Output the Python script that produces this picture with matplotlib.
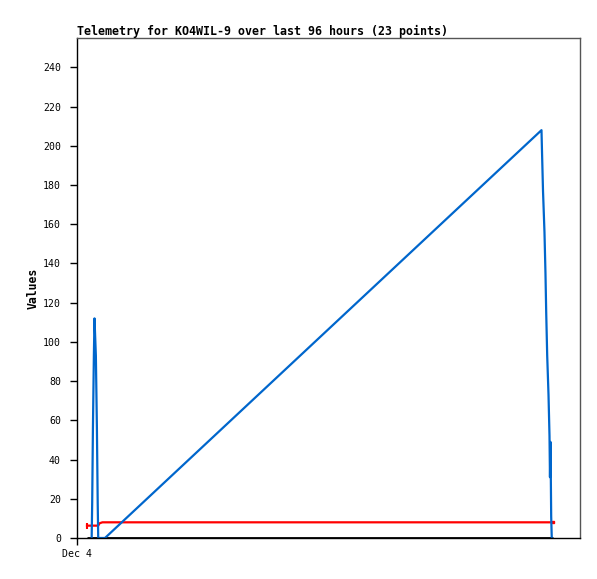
import matplotlib
matplotlib.use("Agg")
import matplotlib.pyplot as plt

# hours since Dec 4 00:00
blue_t = [2.80, 2.90, 3.04, 3.22, 3.34, 3.60, 3.80, 3.95, 4.05, 5.34, 88.65, 88.75,
          88.94, 89.22, 89.41, 89.55, 89.74, 89.99, 90.18, 90.27, 90.37, 90.50, 90.61]
blue_v = [0, 18, 56, 93, 112, 93, 56, 18, 0, 0, 208, 197,
          177, 156, 135, 115, 93, 73, 52, 31, 49, 11, 0]

red_t = [1.91, 4.05, 4.3, 4.85, 90.85]
red_v = [6.3, 6.3, 7.5, 8.0, 8.0]

black_t = [1.91, 90.85]
black_v = [0, 0]

yticks = list(range(0, 241, 20))
xtick_pos = [0]
xtick_lab = ["Dec 4"]

title = "Telemetry for KO4WIL-9 over last 96 hours (23 points)"

mono = "DejaVu Sans Mono"
fig = plt.figure(figsize=(5.97, 5.79), dpi=100)
ax = fig.add_axes([77/597, 1-538/579, 503/597, 500/579])

ax.plot(black_t, black_v, color="black", lw=2.0, solid_capstyle="butt")
ax.plot(red_t, red_v, color="#ff0000", lw=1.6, marker="|", markevery=[0], ms=4, mew=1.5)
ax.plot(red_t[-1:], red_v[-1:], color="#ff0000", marker="s", ms=2)
ax.plot(blue_t, blue_v, color="#0066cc", lw=1.6)

ax.set_xlim(0, 96)
ax.set_ylim(0, 255)
ax.set_yticks(yticks)
ax.set_yticklabels([str(v) for v in yticks], family=mono, fontsize=7.1)
ax.set_xticks(xtick_pos)
ax.set_xticklabels(xtick_lab, family=mono, fontsize=7.1)
ax.tick_params(axis="both", direction="out", length=5, width=1, color="black")
ax.tick_params(axis="y", pad=6.5)
ax.tick_params(axis="x", pad=3)

for s in ["top", "right"]:
    ax.spines[s].set_color("#555555")
    ax.spines[s].set_linewidth(1)
for s in ["left", "bottom"]:
    ax.spines[s].set_color("black")
    ax.spines[s].set_linewidth(1)

ax.set_ylabel("Values", family=mono, fontsize=8.3, fontweight="bold", labelpad=2.5)
fig.text(77/597, 1-31/579, title, family=mono, fontsize=8.35, fontweight="bold",
         ha="left", va="center")

fig.savefig("out.png", dpi=100)
